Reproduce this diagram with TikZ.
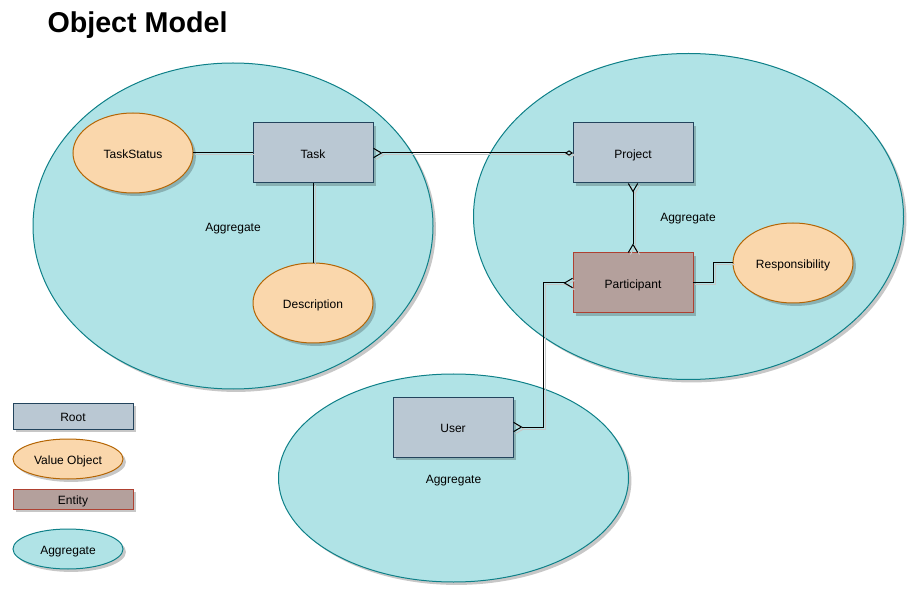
\documentclass[tikz,border=0pt]{standalone}
\usepackage{fontspec}
\setmainfont{Liberation Sans}
\usetikzlibrary{shapes.geometric,arrows.meta,shadows}

\definecolor{rootfill}{HTML}{BAC8D3}
\definecolor{rootline}{HTML}{23445D}
\definecolor{valuefill}{HTML}{FAD7AC}
\definecolor{valueline}{HTML}{B46504}
\definecolor{entityfill}{HTML}{B4A09C}
\definecolor{entityline}{HTML}{AE4132}
\definecolor{aggfill}{HTML}{B0E3E6}
\definecolor{aggline}{HTML}{0E8088}

\tikzset{every picture/.style={line width=0.75pt}}
\tikzset{
  shade/.style={drop shadow={shadow xshift=2.2pt,shadow yshift=-2.2pt,fill=black,opacity=0.22}},
  rootbox/.style={draw=rootline,fill=rootfill,shade,minimum width=90pt,minimum height=45pt,inner sep=0pt,outer sep=0pt},
  entitybox/.style={draw=entityline,fill=entityfill,shade,minimum width=90pt,minimum height=45pt,inner sep=0pt,outer sep=0pt},
  valueobj/.style={ellipse,draw=valueline,fill=valuefill,shade,minimum width=90pt,minimum height=60pt,inner sep=0pt,outer sep=0pt},
  aggregate/.style={ellipse,draw=aggline,fill=aggfill,shade,inner sep=0pt,outer sep=0pt},
  link/.style={draw=black,preaction={draw=black!22,transform canvas={shift={(1.5pt,-1.5pt)}}}},
  many/.tip={Straight Barb[reversed,length=6pt,width=7pt]},
  zeroone/.tip={Diamond[open,length=6pt,width=4pt]},
}

\begin{document}
\begin{tikzpicture}[x=0.75pt,y=0.75pt,yscale=-1,xscale=1,font=\fontsize{9}{11}\selectfont,
  every node/.style={text height=8.4pt,text depth=0pt}]
\useasboundingbox (0,0) rectangle (917,598);

% Aggregates
\node [aggregate,minimum width=300pt,minimum height=244.5pt] (aggTask) at (233,226) {Aggregate};
\node [aggregate,minimum width=322.5pt,minimum height=244.5pt] (aggProject) at (688.5,216.5) {};
\node [aggregate,minimum width=262.5pt,minimum height=156pt] (aggUser) at (453.5,478) {Aggregate};
\node at (688,216) {Aggregate};

% Title
\node [anchor=base west,inner sep=0pt,font=\fontsize{21.5}{26}\selectfont\bfseries] (title) at (47,33) {Object Model};

% Entities
\node [rootbox] (task) at (313,153) {Task};
\node [rootbox] (project) at (633,153) {Project};
\node [entitybox] (participant) at (633,283) {Participant};
\node [rootbox] (user) at (453,427) {User};

% Value objects
\node [valueobj] (taskStatus) at (133,153) {TaskStatus};
\node [valueobj] (description) at (313,303) {Description};
\node [valueobj] (responsibility) at (793,263) {Responsibility};

% Links
\draw [link] (taskStatus) -- (task);
\draw [link] (task) -- (description);
\draw [link,many-zeroone] (task.east) -- (project.west);
\draw [link,many-many] (project) -- (participant);
\draw [link] (participant.east) -- ++(20,0) |- (responsibility.west);
\draw [link,many-many] (user.east) -- ++(30,0) |- (participant.west);

% Legend
\node [rootbox,minimum height=19.5pt] (keyRoot) at (73,416) {Root};
\node [valueobj,minimum width=82.5pt,minimum height=30pt] (keyValue) at (68,459) {Value Object};
\node [entitybox,minimum height=15pt] (keyEntity) at (73,499) {Entity};
\node [aggregate,minimum width=82.5pt,minimum height=30pt] (keyAgg) at (68,549) {Aggregate};

\end{tikzpicture}
\end{document}
